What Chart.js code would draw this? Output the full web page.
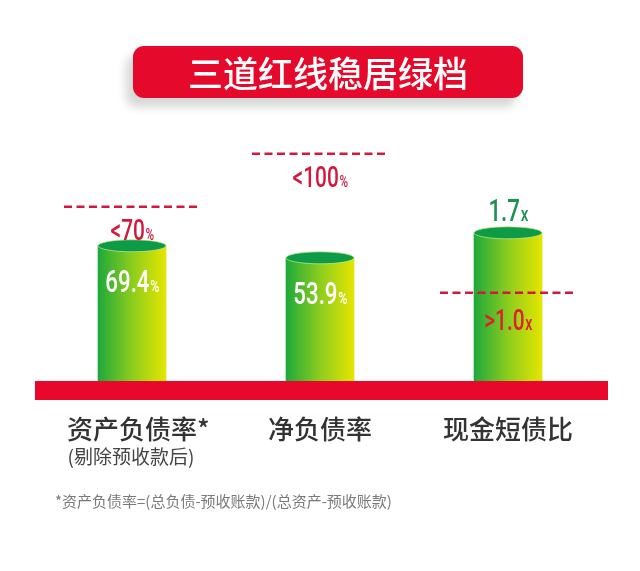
<!DOCTYPE html>
<html>
<head>
<meta charset="utf-8">
<script src="https://cdn.jsdelivr.net/npm/chart.js@4.4.1/dist/chart.umd.min.js"></script>
<style>
  html, body { margin: 0; padding: 0; background: #fff; }
  #wrap { position: relative; width: 640px; height: 571px; overflow: hidden; }
  #chart { position: absolute; left: 0; top: 0; }
  .title {
    position: absolute; left: 133px; top: 46px; width: 390px; height: 52px;
    background: #e50a2c; border-radius: 11px;
    box-shadow: -7px 9px 10px rgba(0, 0, 0, 0.16);
    color: #fff; font: 500 35px "Noto Sans CJK SC"; line-height: 52px; text-align: center;
  }
  .note {
    position: absolute; left: 55px; top: 490px; white-space: nowrap;
    font: 15px "Noto Sans CJK SC"; color: #7a7a7a;
  }
</style>
</head>
<body>
<div id="wrap">
  <canvas id="chart" width="640" height="571"></canvas>
  <div class="title">三道红线稳居绿档</div>
  <div class="note">*资产负债率=(总负债-预收账款)/(总资产-预收账款)</div>
</div>
<script>
const categories = ["资产负债率*", "净负债率", "现金短债比"];
const subLabels = ["(剔除预收款后)", "", ""];
const values = [69.4, 53.9, 1.7];
const units = ["%", "%", "x"];
const thresholds = [70, 100, 1.0];
const thresholdSigns = ["<", "<", ">"];
// heights as drawn in the picture, on one shared scale where the <100% line sits at 100
const barHeights = [59.5, 54.2, 65.2];
const lineHeights = [76.7, 100, 38.8];

const RED = "#e8082b";
const LINE_RED = "#d3183f";
const fmt = (v, u) => (u === "x" ? v.toFixed(1) : String(v));

// number big, unit small, both squeezed to look condensed
function drawValue(ctx, num, unit, cx, cy, size, color) {
  const squeeze = 0.72;
  const unitSize = unit === "x" ? size * 0.68 : size * 0.56;
  ctx.save();
  ctx.fillStyle = color;
  ctx.textBaseline = "alphabetic";
  ctx.textAlign = "left";
  ctx.translate(cx, cy + size * 0.355);
  ctx.scale(squeeze, 1);
  ctx.font = `500 ${size}px Roboto`;
  const wn = ctx.measureText(num).width;
  ctx.font = `500 ${unitSize}px Roboto`;
  const wu = ctx.measureText(unit).width;
  const x0 = -(wn + wu) / 2;
  ctx.font = `500 ${size}px Roboto`;
  ctx.fillText(num, x0, 0);
  ctx.font = `500 ${unitSize}px Roboto`;
  ctx.fillText(unit, x0 + wn + 1, 0);
  ctx.restore();
}

const cylinders = {
  id: "cylinders",
  afterDatasetsDraw(chart) {
    const { ctx, chartArea, scales } = chart;
    const meta = chart.getDatasetMeta(0);
    const base = scales.y.getPixelForValue(0);

    // cylinder tops
    meta.data.forEach((bar) => {
      ctx.save();
      ctx.beginPath();
      ctx.ellipse(bar.x, bar.y, bar.width / 2, 6, 0, 0, Math.PI * 2);
      ctx.fillStyle = "#0e9a46";
      ctx.fill();
      ctx.strokeStyle = "rgba(190, 235, 140, 0.7)";
      ctx.lineWidth = 1;
      ctx.stroke();
      ctx.restore();
    });

    // red base band
    ctx.fillStyle = RED;
    ctx.fillRect(chartArea.left - 3, base, chartArea.right - chartArea.left + 9, 19);

    // dashed threshold lines and their labels
    meta.data.forEach((bar, i) => {
      const y = scales.y.getPixelForValue(lineHeights[i]);
      ctx.save();
      ctx.strokeStyle = LINE_RED;
      ctx.lineWidth = 2.5;
      ctx.setLineDash([8, 4.5]);
      ctx.beginPath();
      ctx.moveTo(bar.x - bar.width, y);
      ctx.lineTo(bar.x + bar.width, y);
      ctx.stroke();
      ctx.restore();
      const color = thresholdSigns[i] === ">" ? "#d8232c" : LINE_RED;
      drawValue(ctx, thresholdSigns[i] + fmt(thresholds[i], units[i]), units[i],
        bar.x, y + (i === 2 ? 27 : 23), 29, color);
    });

    // values: inside the cylinder, or above it when the threshold line crosses the bar
    meta.data.forEach((bar, i) => {
      const above = lineHeights[i] < barHeights[i];
      if (above) {
        drawValue(ctx, fmt(values[i], units[i]), units[i], bar.x, bar.y - 23, 31, "#1d9150");
      } else {
        drawValue(ctx, fmt(values[i], units[i]), units[i], bar.x, bar.y + 35, 31, "#ffffff");
      }
    });

    // category labels
    ctx.save();
    ctx.fillStyle = "#333";
    ctx.textBaseline = "middle";
    ctx.textAlign = "left";
    categories.forEach((label, i) => {
      const x = scales.x.getPixelForValue(i);
      ctx.font = '500 26px "Noto Sans CJK SC"';
      const core = label.replace(/\*$/, "");
      const w = ctx.measureText(core).width;
      ctx.fillText(label, x - w / 2, 429);
      if (subLabels[i]) {
        ctx.font = '19px "Noto Sans CJK SC"';
        ctx.fillStyle = "#444";
        const ws = ctx.measureText(subLabels[i]).width;
        ctx.fillText(subLabels[i], x - 1 - ws / 2, 457);
        ctx.fillStyle = "#333";
      }
    });
    ctx.restore();
  },
};

new Chart(document.getElementById("chart"), {
  type: "bar",
  data: {
    labels: categories,
    datasets: [
      {
        data: barHeights,
        barThickness: 68,
        borderWidth: 0,
        backgroundColor: (c) => {
          const chart = c.chart;
          if (!chart.chartArea || !chart.scales.x) return "#7cc82a";
          const cx = chart.scales.x.getPixelForValue(c.dataIndex);
          const g = chart.ctx.createLinearGradient(cx - 34, 0, cx + 34, 0);
          g.addColorStop(0, "#1ea83b");
          g.addColorStop(0.5, "#8ccd1e");
          g.addColorStop(1, "#e4e500");
          return g;
        },
      },
    ],
  },
  options: {
    responsive: false,
    animation: false,
    layout: { padding: { left: 38, right: 38, top: 131, bottom: 190 } },
    scales: {
      x: { display: false },
      y: { display: false, min: 0, max: 110 },
    },
    plugins: {
      legend: { display: false },
      tooltip: { enabled: false },
    },
  },
  plugins: [cylinders],
});
</script>
</body>
</html>
